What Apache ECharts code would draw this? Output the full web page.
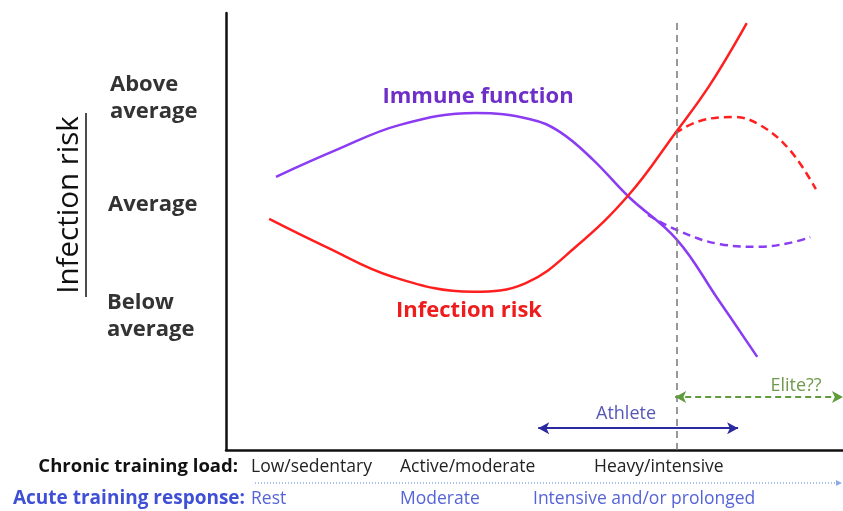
<!DOCTYPE html>
<html>
<head>
<meta charset="utf-8">
<script src="https://cdn.jsdelivr.net/npm/echarts@6/dist/echarts.min.js"></script>
<style>
  html, body { margin: 0; padding: 0; background: #fff; }
  #chart { width: 843px; height: 511px; }
</style>
</head>
<body>
<div id="chart"></div>
<script>
// curves on an abstract 0-100 scale (x: training load, y: level)
const immuneSolid = [[8.1, 62.5], [17.8, 68.6], [28.2, 74.4], [40.5, 77.1], [49.3, 75.7], [54.1, 72.8],
  [59.5, 66.4], [65.3, 57.9], [73.1, 48.1], [79.6, 34.8], [86.1, 21.3]]
const immuneDashed = [[68.4, 53.8], [73.1, 50.3], [80.1, 47.1], [86.5, 46.5], [91.4, 47.4], [94.7, 48.7]]
const riskSolid = [[7.0, 52.9], [16.2, 46.5], [27.1, 39.6], [40.0, 36.2], [48.6, 38.2], [56.7, 46.5],
  [65.3, 58.4], [72.8, 72.5], [78.4, 83.5], [84.4, 97.7]]
const riskDashed = [[72.8, 72.5], [76.8, 75.3], [82.2, 76.2], [86.5, 74.4], [91.4, 68.6], [95.6, 59.7]]

const thresholdX = 73.1
const athleteRange = [50.6, 83.0]
const eliteRange = [72.8, 100]

const levelLabels = ['Above\naverage', 'Average', 'Below\naverage']
const chronicLabels = ['Low/sedentary', 'Active/moderate', 'Heavy/intensive']
const acuteLabels = ['Rest', 'Moderate', 'Intensive and/or prolonged']

const purple = '#8b3cf2'
const red = '#ff1f1f'
const fontFam = '"Open Sans", Lato, sans-serif'

const chart = echarts.init(document.getElementById('chart'))

const bold = size => 'bold ' + size + 'px ' + fontFam
const txt = (text, x, y, font, fill, align) => ({
  type: 'text', x, y,
  style: { text, font, fill, align: align || 'left', verticalAlign: 'middle', lineHeight: 27 }
})

chart.setOption({
  animation: false,
  grid: { left: 226, right: 0, top: 13, bottom: 61 },
  xAxis: {
    type: 'value', min: 0, max: 100,
    axisLine: { show: true, onZero: false, lineStyle: { color: '#111', width: 2.5 } },
    axisTick: { show: false }, axisLabel: { show: false }, splitLine: { show: false }
  },
  yAxis: {
    type: 'value', min: 0, max: 100,
    axisLine: { show: true, onZero: false, lineStyle: { color: '#111', width: 2.5 } },
    axisTick: { show: false }, axisLabel: { show: false }, splitLine: { show: false }
  },
  series: [
    {
      type: 'line', data: immuneSolid, smooth: 0.4, showSymbol: false,
      lineStyle: { color: purple, width: 2.5 }
    },
    {
      type: 'line', data: immuneDashed, smooth: 0.4, showSymbol: false,
      lineStyle: { color: purple, width: 2.5, type: [8, 5] }
    },
    {
      type: 'line', data: riskSolid, smooth: 0.4, showSymbol: false,
      lineStyle: { color: red, width: 2.5 }
    },
    {
      type: 'line', data: riskDashed, smooth: 0.4, showSymbol: false,
      lineStyle: { color: red, width: 2.5, type: [8, 5] }
    },
    {
      type: 'line', data: [], clip: false,
      markLine: {
        silent: true,
        label: { show: false },
        data: [
          [{ coord: [thresholdX, 97.7], symbol: 'none', lineStyle: { color: '#777', width: 1.5, type: [7, 5] } },
           { coord: [thresholdX, 0], symbol: 'none' }],
          [{ coord: [athleteRange[0], 5.0], lineStyle: { color: '#2a2aa0', width: 2, type: 'solid' } },
           { coord: [athleteRange[1], 5.0] }],
          [{ coord: [eliteRange[0], 12.1], lineStyle: { color: '#5e9c3c', width: 2, type: [6, 4] } },
           { coord: [eliteRange[1], 12.1] }]
        ],
        symbol: ['arrow', 'arrow'],
        symbolSize: [9, 11]
      }
    }
  ],
  graphic: [
    txt(levelLabels[0], 110, 98, bold(22), '#333'),
    txt(levelLabels[1], 108, 205, bold(22), '#333'),
    txt(levelLabels[2], 107, 316, bold(22), '#333'),
    {
      type: 'text', x: 70, y: 205, rotation: Math.PI / 2,
      style: { text: 'Infection risk', font: '29.5px ' + fontFam, fill: '#111', align: 'center', verticalAlign: 'middle' }
    },
    { type: 'line', shape: { x1: 86, y1: 113, x2: 86, y2: 297 }, style: { stroke: '#111', lineWidth: 1.5 } },
    txt('Immune function', 478, 97, bold(22), '#6e2fc8', 'center'),
    txt('Infection risk', 469, 311, bold(22), '#ee1c1c', 'center'),
    txt('Athlete', 626, 414, '18px ' + fontFam, '#5656b8', 'center'),
    txt('Elite??', 796, 386, '18px ' + fontFam, '#6f9a4e', 'center'),
    txt('Chronic training load:', 238, 467, bold(18.5), '#111', 'right'),
    txt(chronicLabels[0], 251, 467, '17.5px ' + fontFam, '#222'),
    txt(chronicLabels[1], 400, 467, '17.5px ' + fontFam, '#222'),
    txt(chronicLabels[2], 594, 467, '17.5px ' + fontFam, '#222'),
    txt('Acute training response:', 245, 499, bold(19), '#3f4fd6', 'right'),
    txt(acuteLabels[0], 251, 499, '17.5px ' + fontFam, '#5563d8'),
    txt(acuteLabels[1], 400, 499, '17.5px ' + fontFam, '#5563d8'),
    txt(acuteLabels[2], 533, 499, '17.5px ' + fontFam, '#5563d8'),
    { type: 'line', shape: { x1: 255, y1: 483, x2: 836, y2: 483 }, style: { stroke: '#8fa8e6', lineWidth: 1.5, lineDash: [1, 2] } },
    { type: 'polygon', shape: { points: [[836, 480], [842, 483], [836, 486]] }, style: { fill: '#8fa8e6' } }
  ]
})
</script>
</body>
</html>
